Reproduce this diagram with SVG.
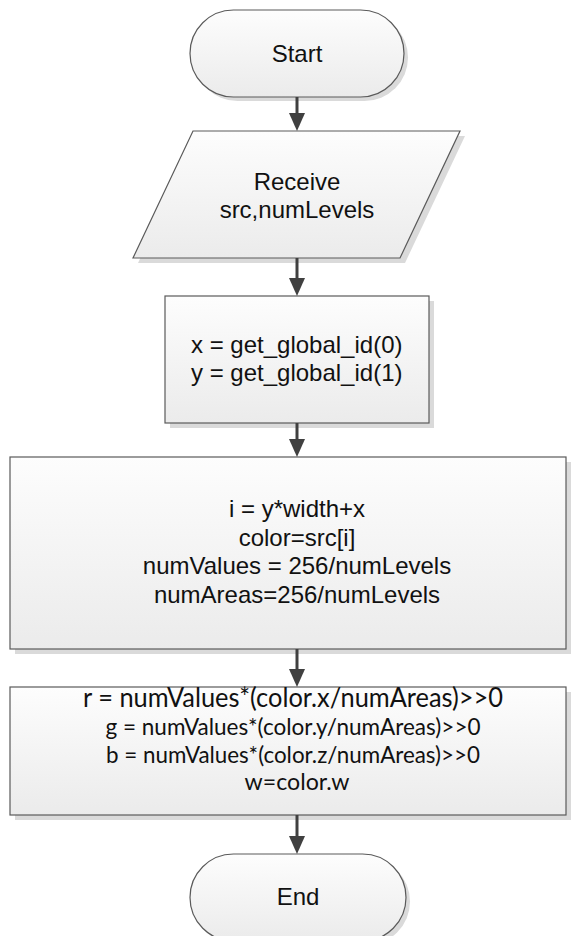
<svg xmlns="http://www.w3.org/2000/svg" width="577" height="936" viewBox="0 0 577 936">
  <style>
    .shape { stroke: #5a5a5a; stroke-width: 1.2; fill: url(#fillGrad); }
    .shadow { fill: #dadada; stroke: none; }
    .lbl { font-family: "Liberation Sans", Arial, sans-serif; font-size: 24px; fill: #111; text-anchor: middle; }
    .lbl-left { font-family: "Liberation Sans", Arial, sans-serif; font-size: 24px; fill: #111; }
    .calc { font-family: Lato, "Open Sans", sans-serif; font-size: 24px; fill: #111; text-anchor: middle; }
    .conn { stroke: #404040; stroke-width: 3; fill: none; marker-end: url(#arrow); }
  </style>
  <defs>
    <linearGradient id="fillGrad" x1="0" y1="0" x2="0" y2="1">
      <stop offset="0" stop-color="#fdfdfd"/>
      <stop offset="1" stop-color="#ebebeb"/>
    </linearGradient>
    <marker id="arrow" viewBox="0 0 18 16" refX="0" refY="8" markerWidth="18" markerHeight="16" markerUnits="userSpaceOnUse" orient="auto">
      <path d="M0,0 L18,8 L0,16 z" fill="#404040"/>
    </marker>
  </defs>
  <rect width="577" height="936" fill="#fff"/>

  <!-- Start terminator -->
  <g id="start">
    <rect class="shadow" x="194" y="14" width="214" height="87" rx="43.5"/>
    <rect class="shape" x="190" y="10" width="214" height="87" rx="43.5"/>
    <text class="lbl" x="297" y="62">Start</text>
  </g>

  <!-- Input: receive parameters -->
  <g id="receive">
    <polygon class="shadow" points="198,136 465,136 405,263 138,263"/>
    <polygon class="shape" points="193,131 460,131 400,258 133,258"/>
    <text class="lbl" x="297" y="190">Receive</text>
    <text class="lbl" x="297" y="218">src,numLevels</text>
  </g>

  <!-- Work-item ids -->
  <g id="ids">
    <rect class="shadow" x="170" y="301" width="264" height="127"/>
    <rect class="shape" x="165" y="296" width="264" height="127"/>
    <text class="lbl-left" x="191" y="353">x = get_global_id(0)</text>
    <text class="lbl-left" x="191" y="381">y = get_global_id(1)</text>
  </g>

  <!-- Index, colour and level setup -->
  <g id="setup">
    <rect class="shadow" x="15" y="462" width="556" height="192"/>
    <rect class="shape" x="10" y="457" width="556" height="192"/>
    <text class="lbl" x="297" y="517">i = y*width+x</text>
    <text class="lbl" x="297" y="546">color=src[i]</text>
    <text class="lbl" x="297" y="574">numValues = 256/numLevels</text>
    <text class="lbl" x="297" y="603">numAreas=256/numLevels</text>
  </g>

  <!-- Quantised channel values -->
  <g id="quantize">
    <rect class="shadow" x="15" y="692" width="556" height="128"/>
    <rect class="shape" x="10" y="687" width="556" height="128"/>
    <text class="calc" x="293" y="707" style="font-size:27px" textLength="420" lengthAdjust="spacingAndGlyphs">r = numValues*(color.x/numAreas)&gt;&gt;0</text>
    <text class="calc" x="293" y="735" textLength="375" lengthAdjust="spacingAndGlyphs">g = numValues*(color.y/numAreas)&gt;&gt;0</text>
    <text class="calc" x="293" y="763" textLength="374" lengthAdjust="spacingAndGlyphs">b = numValues*(color.z/numAreas)&gt;&gt;0</text>
    <text class="calc" x="297" y="790" textLength="105" lengthAdjust="spacingAndGlyphs">w=color.w</text>
  </g>

  <!-- End terminator -->
  <g id="end">
    <rect class="shadow" x="194" y="858" width="216" height="87" rx="43.5"/>
    <rect class="shape" x="190" y="854" width="216" height="87" rx="43.5"/>
    <text class="lbl" x="298" y="905">End</text>
  </g>

  <!-- Flow connectors -->
  <g id="connectors">
    <line class="conn" x1="297" y1="97" x2="297" y2="113"/>
    <line class="conn" x1="297" y1="258" x2="297" y2="278"/>
    <line class="conn" x1="297" y1="423" x2="297" y2="439"/>
    <line class="conn" x1="297" y1="649" x2="297" y2="669"/>
    <line class="conn" x1="297" y1="815" x2="297" y2="836"/>
  </g>
</svg>
